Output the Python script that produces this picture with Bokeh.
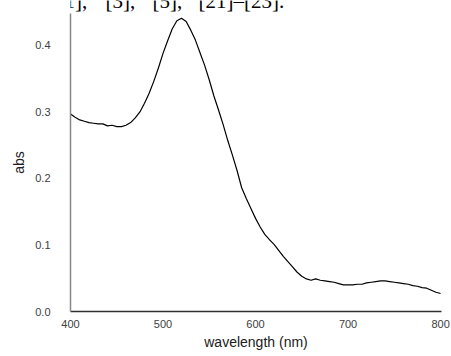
from bokeh.plotting import figure
from bokeh.models import Range1d, Label, FixedTicker
from bokeh.layouts import column
from bokeh.embed import file_html
from bokeh.resources import INLINE

# Data
wavelength = [400, 405, 410, 415, 420, 425, 430, 435, 440, 445, 450, 455, 460, 465, 470, 475,
              480, 485, 490, 495, 500, 505, 510, 515, 520, 525, 530, 535, 540, 545, 550, 555,
              560, 565, 570, 575, 580, 585, 590, 595, 600, 605, 610, 615, 620, 625, 630, 635,
              640, 645, 650, 655, 660, 665, 670, 675, 680, 685, 690, 695, 700, 705, 710, 715,
              720, 725, 730, 735, 740, 745, 750, 755, 760, 765, 770, 775, 780, 785, 790, 795, 800]
absorbance = [0.297, 0.292, 0.288, 0.286, 0.284, 0.283, 0.282, 0.282, 0.279, 0.280, 0.278, 0.278,
              0.280, 0.284, 0.291, 0.300, 0.313, 0.328, 0.346, 0.366, 0.388, 0.407, 0.425, 0.437,
              0.441, 0.436, 0.423, 0.408, 0.389, 0.370, 0.348, 0.324, 0.303, 0.281, 0.257, 0.235,
              0.212, 0.186, 0.170, 0.155, 0.140, 0.127, 0.116, 0.108, 0.101, 0.092, 0.083, 0.075,
              0.067, 0.059, 0.053, 0.049, 0.047, 0.049, 0.047, 0.046, 0.045, 0.044, 0.042, 0.040,
              0.040, 0.040, 0.041, 0.041, 0.043, 0.044, 0.045, 0.046, 0.046, 0.045, 0.044, 0.043,
              0.042, 0.041, 0.039, 0.038, 0.036, 0.035, 0.032, 0.029, 0.027]
x_ticks = [400, 500, 600, 700, 800]
y_ticks = [0.0, 0.1, 0.2, 0.3, 0.4]
y_tick_labels = {0.0: "0.0", 0.1: "0.1", 0.2: "0.2", 0.3: "0.3", 0.4: "0.4"}
# Words of the (justified) document line above the chart
header_words = ["1],", "[3],", "[5],", "[21]\u2013[23]."]
header_word_x = [-6, 35, 82, 128]

# Strip of document text above the chart (cut off at the top edge)
head = figure(width=451, height=13, output_backend="svg", toolbar_location=None,
              x_range=Range1d(0, 1), y_range=Range1d(0, 1),
              min_border_left=0, min_border_right=0, min_border_top=0, min_border_bottom=0)
head.axis.visible = False
head.grid.visible = False
head.outline_line_color = None
head.border_fill_color = "white"
for word, wx in zip(header_words, header_word_x):
    head.add_layout(Label(x=wx, y=12.5, x_units="screen", y_units="screen", text=word,
                          text_font="Liberation Serif", text_font_size="21px",
                          text_color="black", text_baseline="alphabetic", text_align="left"))

p = figure(width=451, height=343, output_backend="svg", toolbar_location=None,
           x_range=Range1d(400, 801), y_range=Range1d(0, 0.448),
           min_border_left=70, min_border_right=10, min_border_top=0, min_border_bottom=45)
p.outline_line_color = None
p.background_fill_color = "white"
p.border_fill_color = "white"
p.grid.visible = False

p.line(wavelength, absorbance, line_color="black", line_width=1.2)

for ax in (p.xaxis[0], p.yaxis[0]):
    ax.major_tick_line_color = None
    ax.minor_tick_line_color = None
    ax.major_tick_out = 0
    ax.major_tick_in = 0
    ax.minor_tick_out = 0
    ax.major_label_text_font = "Liberation Sans"
    ax.major_label_text_font_size = "11px"
    ax.major_label_text_color = "#404040"
    ax.axis_label_text_font = "Liberation Sans"
    ax.axis_label_text_font_style = "normal"
    ax.axis_label_text_color = "#202020"

p.xaxis.ticker = FixedTicker(ticks=x_ticks)
p.yaxis.ticker = FixedTicker(ticks=y_ticks)
p.yaxis.major_label_overrides = y_tick_labels
p.xaxis.axis_label = "wavelength (nm)"
p.yaxis.axis_label = "abs"
p.xaxis.axis_label_text_font_size = "14px"
p.yaxis.axis_label_text_font_size = "14px"
p.xaxis.axis_line_color = "#303030"
p.xaxis.axis_line_width = 1.5
p.yaxis.axis_line_color = "#888888"
p.yaxis.axis_line_width = 1.5
p.yaxis.major_label_standoff = 20
p.xaxis.major_label_standoff = 8
p.xaxis.axis_label_standoff = 3
p.yaxis.axis_label_standoff = 5

layout = column(head, p, spacing=0)
open("out.html", "w").write(file_html(layout, INLINE))
